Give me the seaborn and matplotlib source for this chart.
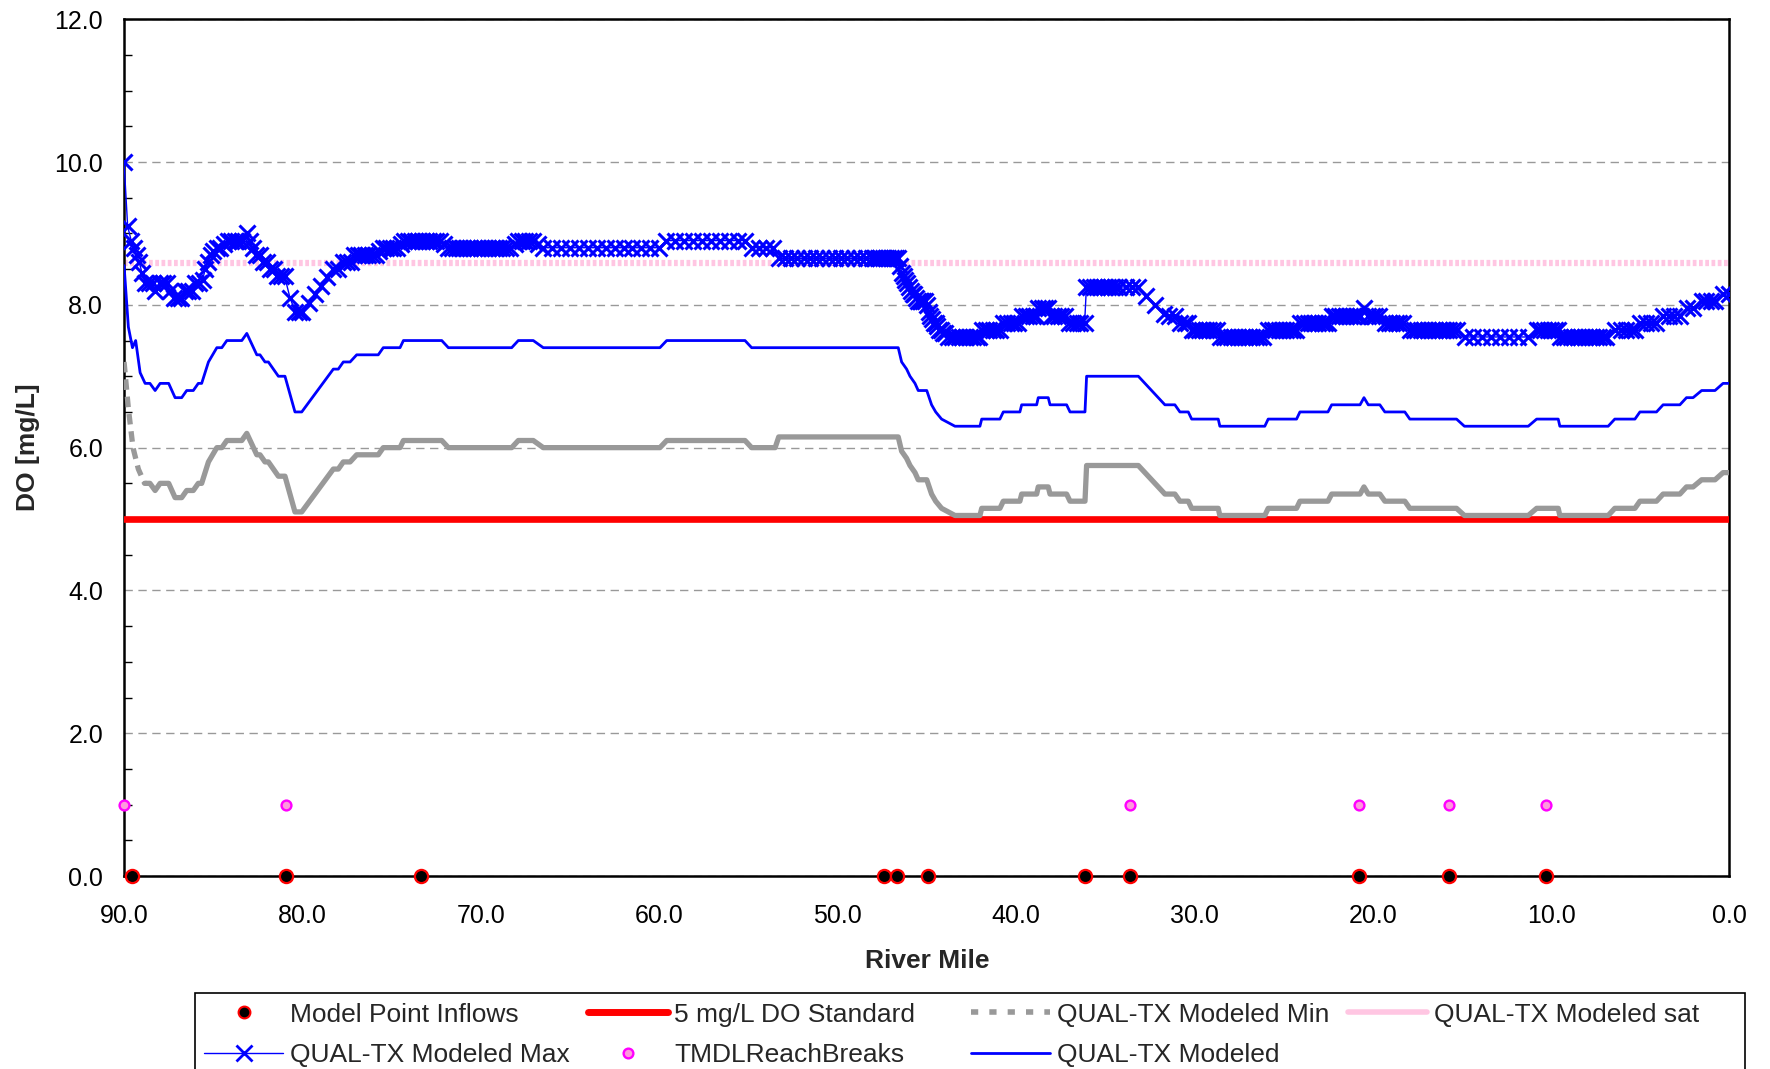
import numpy as np
import pandas as pd
import matplotlib
matplotlib.use("Agg")
import matplotlib.pyplot as plt
import seaborn as sns
from matplotlib.lines import Line2D

# ---------------- data ----------------
modeled_mile = [90.0, 89.76, 89.53, 89.35, 89.1, 88.82, 88.55, 88.26, 87.98, 87.5,
                87.14, 86.77, 86.49, 86.12, 85.84, 85.65, 85.27, 84.8, 84.52, 84.24,
                83.4, 83.12, 82.56, 82.38, 82.1, 81.91, 81.63, 81.35, 80.98, 80.42,
                80.04, 78.27, 77.99, 77.71, 77.33, 76.96, 75.75, 75.47, 74.53, 74.34,
                72.19, 71.82, 68.27, 67.9, 67.06, 66.5, 59.96, 59.58, 55.19, 54.82,
                46.6, 46.41, 46.13, 45.94, 45.66, 45.48, 45.0, 44.73, 44.5, 44.17,
                43.42, 42.02, 41.92, 40.9, 40.71, 39.78, 39.68, 38.84, 38.75, 38.19,
                38.09, 37.16, 36.97, 36.13, 36.04, 33.14, 31.65, 31.09, 30.81, 30.34,
                30.15, 28.66, 28.57, 26.05, 25.86, 24.27, 24.08, 22.51, 22.3, 20.71,
                20.49, 20.25, 19.6, 19.32, 18.2, 17.92, 15.3, 14.86, 11.28, 10.81,
                9.6, 9.51, 6.8, 6.43, 5.3, 5.02, 4.09, 3.72, 2.78, 2.41,
                2.04, 1.56, 0.81, 0.36, 0.0]
modeled_do = [8.55, 7.69, 7.4, 7.5, 7.05, 6.9, 6.9, 6.8, 6.9, 6.9,
              6.7, 6.7, 6.8, 6.8, 6.9, 6.9, 7.2, 7.4, 7.4, 7.5,
              7.5, 7.6, 7.3, 7.3, 7.2, 7.2, 7.1, 7.0, 7.0, 6.5,
              6.5, 7.1, 7.1, 7.2, 7.2, 7.3, 7.3, 7.4, 7.4, 7.5,
              7.5, 7.4, 7.4, 7.5, 7.5, 7.4, 7.4, 7.5, 7.5, 7.4,
              7.4, 7.2, 7.1, 7.0, 6.9, 6.8, 6.8, 6.6, 6.5, 6.4,
              6.3, 6.3, 6.4, 6.4, 6.5, 6.5, 6.6, 6.6, 6.7, 6.7,
              6.6, 6.6, 6.5, 6.5, 7.0, 7.0, 6.6, 6.6, 6.5, 6.5,
              6.4, 6.4, 6.3, 6.3, 6.4, 6.4, 6.5, 6.5, 6.6, 6.6,
              6.7, 6.6, 6.6, 6.5, 6.5, 6.4, 6.4, 6.3, 6.3, 6.4,
              6.4, 6.3, 6.3, 6.4, 6.4, 6.5, 6.5, 6.6, 6.6, 6.7,
              6.7, 6.8, 6.8, 6.9, 6.9]

min_mile = [90.0, 89.76, 89.5, 89.2, 88.85, 88.55, 88.26, 87.98, 87.5, 87.14,
            86.77, 86.49, 86.12, 85.84, 85.65, 85.27, 84.8, 84.52, 84.24, 83.4,
            83.12, 82.56, 82.38, 82.1, 81.91, 81.63, 81.35, 80.98, 80.42, 80.04,
            78.27, 77.99, 77.71, 77.33, 76.96, 75.75, 75.47, 74.53, 74.34, 72.19,
            71.82, 68.27, 67.9, 67.06, 66.5, 59.96, 59.58, 55.19, 54.82, 53.5,
            53.3, 46.6, 46.41, 46.13, 45.94, 45.66, 45.48, 45.0, 44.73, 44.5,
            44.17, 43.42, 42.02, 41.92, 40.9, 40.71, 39.78, 39.68, 38.84, 38.75,
            38.19, 38.09, 37.16, 36.97, 36.13, 36.04, 33.14, 31.65, 31.09, 30.81,
            30.34, 30.15, 28.66, 28.57, 26.05, 25.86, 24.27, 24.08, 22.51, 22.3,
            20.71, 20.49, 20.25, 19.6, 19.32, 18.2, 17.92, 15.3, 14.86, 11.28,
            10.81, 9.6, 9.51, 6.8, 6.43, 5.3, 5.02, 4.09, 3.72, 2.78,
            2.41, 2.04, 1.56, 0.81, 0.36, 0.0]
min_do = [7.2, 6.55, 6.0, 5.7, 5.5, 5.5, 5.4, 5.5, 5.5, 5.3,
          5.3, 5.4, 5.4, 5.5, 5.5, 5.8, 6.0, 6.0, 6.1, 6.1,
          6.2, 5.9, 5.9, 5.8, 5.8, 5.7, 5.6, 5.6, 5.1, 5.1,
          5.7, 5.7, 5.8, 5.8, 5.9, 5.9, 6.0, 6.0, 6.1, 6.1,
          6.0, 6.0, 6.1, 6.1, 6.0, 6.0, 6.1, 6.1, 6.0, 6.0,
          6.15, 6.15, 5.95, 5.85, 5.75, 5.65, 5.55, 5.55, 5.35, 5.25,
          5.15, 5.05, 5.05, 5.15, 5.15, 5.25, 5.25, 5.35, 5.35, 5.45,
          5.45, 5.35, 5.35, 5.25, 5.25, 5.75, 5.75, 5.35, 5.35, 5.25,
          5.25, 5.15, 5.15, 5.05, 5.05, 5.15, 5.15, 5.25, 5.25, 5.35,
          5.35, 5.45, 5.35, 5.35, 5.25, 5.25, 5.15, 5.15, 5.05, 5.05,
          5.15, 5.15, 5.05, 5.05, 5.15, 5.15, 5.25, 5.25, 5.35, 5.35,
          5.45, 5.45, 5.55, 5.55, 5.65, 5.65]

max_mile = [90.0, 89.8, 89.6, 89.45, 89.3, 89.15, 89.0, 88.8, 88.6, 88.4,
            88.25, 88.0, 87.8, 87.6, 87.4, 87.2, 87.0, 86.8, 86.6, 86.4,
            86.2, 86.0, 85.8, 85.6, 85.45, 85.3, 85.15, 85.0, 84.8, 84.6,
            84.4, 84.2, 84.0, 83.8, 83.6, 83.4, 83.1, 82.95, 82.8, 82.6,
            82.4, 82.2, 82.0, 81.8, 81.6, 81.4, 81.2, 81.0, 80.7, 80.4,
            80.2, 80.0,
            79.65, 79.3, 78.95, 78.6, 78.27, 78.0, 77.7, 77.5, 77.3, 77.1,
            76.9, 76.7, 76.5, 76.3, 76.1, 75.9, 75.7, 75.5, 75.3, 75.1,
            74.9, 74.7, 74.5,
            74.3, 74.1, 73.9, 73.7, 73.5, 73.3, 73.1, 72.9, 72.7, 72.5, 72.3,
            72.05, 71.85, 71.6, 71.4, 71.2, 71.0, 70.8, 70.6, 70.4, 70.2,
            70.0, 69.8, 69.6, 69.4, 69.2, 69.0, 68.8, 68.6, 68.35,
            68.1, 67.9, 67.7, 67.5, 67.3, 67.1, 66.8,
            66.5, 66.0, 65.5, 65.0, 64.5, 64.0, 63.5, 63.0, 62.5, 62.0,
            61.5, 61.0, 60.5, 60.0,
            59.6, 59.1, 58.6, 58.1, 57.6, 57.1, 56.6, 56.1, 55.6, 55.2,
            54.8, 54.4, 54.0, 53.6,
            53.3, 52.95, 52.6, 52.25, 51.9, 51.55, 51.2, 50.85, 50.5, 50.15,
            49.8, 49.45, 49.1, 48.75, 48.4, 48.05,
            47.9, 47.75, 47.6, 47.45, 47.3, 47.15, 47.0, 46.85, 46.7, 46.6,
            46.5, 46.4, 46.3, 46.2, 46.1, 46.0, 45.9, 45.8, 45.7, 45.6,
            45.5, 45.4, 45.3, 45.2, 45.1, 45.0, 44.9, 44.8, 44.7, 44.6,
            44.5, 44.4, 44.3, 44.2, 44.1,
            44.0, 43.8, 43.6, 43.4, 43.2, 43.0, 42.8, 42.6, 42.4, 42.2, 42.05,
            41.9, 41.7, 41.5, 41.3, 41.1, 40.9,
            40.7, 40.5, 40.3, 40.1, 39.9,
            39.65, 39.45, 39.25, 39.05, 38.85,
            38.75, 38.55, 38.35, 38.2,
            38.05, 37.85, 37.65, 37.45, 37.25,
            37.0, 36.8, 36.6, 36.4, 36.15,
            36.05, 35.85, 35.65, 35.45, 35.25, 35.05, 34.85, 34.65, 34.45, 34.25,
            33.85, 33.5, 33.15, 32.7, 32.2, 31.7, 31.4, 31.1, 30.8, 30.55, 30.35,
            30.15, 29.95, 29.75, 29.55, 29.35, 29.15, 28.95, 28.75,
            28.55, 28.35, 28.15, 27.95, 27.75, 27.55, 27.35, 27.15, 26.95, 26.75,
            26.55, 26.35, 26.15,
            25.85, 25.65, 25.45, 25.25, 25.05, 24.85, 24.65, 24.45, 24.3,
            24.05, 23.85, 23.65, 23.45, 23.25, 23.05, 22.85, 22.65, 22.5,
            22.3, 22.1, 21.9, 21.7, 21.5, 21.3, 21.1, 20.9, 20.7,
            20.5,
            20.25, 20.05, 19.85, 19.65,
            19.3, 19.1, 18.9, 18.7, 18.5, 18.3,
            17.9, 17.7, 17.5, 17.3, 17.1, 16.9, 16.7, 16.5, 16.3, 16.1,
            15.9, 15.7, 15.5, 15.3,
            14.85, 14.35, 13.85, 13.35, 12.85, 12.35, 11.85, 11.3,
            10.8, 10.6, 10.4, 10.2, 10.0, 9.8, 9.6,
            9.5, 9.3, 9.1, 8.9, 8.7, 8.5, 8.3, 8.1, 7.9, 7.7,
            7.5, 7.3, 7.1, 6.9,
            6.4, 6.1, 5.8, 5.5, 5.3,
            5.0, 4.7, 4.4, 4.1,
            3.7, 3.4, 3.1, 2.8,
            2.4, 2.05,
            1.55, 1.3, 1.05, 0.8,
            0.35, 0.0]
max_do = [10.0, 9.1, 8.9, 8.8, 8.7, 8.6, 8.45, 8.3, 8.3, 8.3,
          8.2, 8.3, 8.3, 8.3, 8.2, 8.1, 8.1, 8.1, 8.2, 8.2,
          8.2, 8.3, 8.3, 8.35, 8.5, 8.6, 8.7, 8.75, 8.8, 8.8,
          8.85, 8.9, 8.9, 8.9, 8.9, 8.9, 9.0, 8.9, 8.8, 8.7,
          8.7, 8.6, 8.6, 8.5, 8.5, 8.4, 8.4, 8.4, 8.1, 7.9,
          7.9, 7.9,
          8.03, 8.15, 8.27, 8.39, 8.5, 8.5, 8.6, 8.6, 8.6, 8.7,
          8.7, 8.7, 8.7, 8.7, 8.7, 8.7, 8.75, 8.8, 8.8, 8.8,
          8.8, 8.8, 8.85,
          8.9, 8.9, 8.9, 8.9, 8.9, 8.9, 8.9, 8.9, 8.9, 8.9, 8.9,
          8.85, 8.8, 8.8, 8.8, 8.8, 8.8, 8.8, 8.8, 8.8, 8.8,
          8.8, 8.8, 8.8, 8.8, 8.8, 8.8, 8.8, 8.8, 8.8,
          8.85, 8.9, 8.9, 8.9, 8.9, 8.9, 8.85,
          8.8, 8.8, 8.8, 8.8, 8.8, 8.8, 8.8, 8.8, 8.8, 8.8,
          8.8, 8.8, 8.8, 8.8,
          8.9, 8.9, 8.9, 8.9, 8.9, 8.9, 8.9, 8.9, 8.9, 8.9,
          8.8, 8.8, 8.8, 8.8,
          8.65, 8.65, 8.65, 8.65, 8.65, 8.65, 8.65, 8.65, 8.65, 8.65,
          8.65, 8.65, 8.65, 8.65, 8.65, 8.65,
          8.65, 8.65, 8.65, 8.65, 8.65, 8.65, 8.65, 8.65, 8.65, 8.65,
          8.55, 8.45, 8.4, 8.35, 8.3, 8.25, 8.2, 8.15, 8.15, 8.1,
          8.05, 8.05, 8.05, 8.05, 8.05, 8.0, 7.9, 7.85, 7.8, 7.75,
          7.75, 7.7, 7.65, 7.65, 7.6,
          7.6, 7.55, 7.55, 7.55, 7.55, 7.55, 7.55, 7.55, 7.55, 7.55, 7.55,
          7.65, 7.65, 7.65, 7.65, 7.65, 7.65,
          7.75, 7.75, 7.75, 7.75, 7.75,
          7.85, 7.85, 7.85, 7.85, 7.85,
          7.95, 7.95, 7.95, 7.95,
          7.85, 7.85, 7.85, 7.85, 7.85,
          7.75, 7.75, 7.75, 7.75, 7.75,
          8.25, 8.25, 8.25, 8.25, 8.25, 8.25, 8.25, 8.25, 8.25, 8.25,
          8.25, 8.25, 8.25, 8.13, 8.0, 7.87, 7.85, 7.85, 7.75, 7.75, 7.75,
          7.65, 7.65, 7.65, 7.65, 7.65, 7.65, 7.65, 7.65,
          7.55, 7.55, 7.55, 7.55, 7.55, 7.55, 7.55, 7.55, 7.55, 7.55,
          7.55, 7.55, 7.55,
          7.65, 7.65, 7.65, 7.65, 7.65, 7.65, 7.65, 7.65, 7.65,
          7.75, 7.75, 7.75, 7.75, 7.75, 7.75, 7.75, 7.75, 7.75,
          7.85, 7.85, 7.85, 7.85, 7.85, 7.85, 7.85, 7.85, 7.85,
          7.95,
          7.85, 7.85, 7.85, 7.85,
          7.75, 7.75, 7.75, 7.75, 7.75, 7.75,
          7.65, 7.65, 7.65, 7.65, 7.65, 7.65, 7.65, 7.65, 7.65, 7.65,
          7.65, 7.65, 7.65, 7.65,
          7.55, 7.55, 7.55, 7.55, 7.55, 7.55, 7.55, 7.55,
          7.65, 7.65, 7.65, 7.65, 7.65, 7.65, 7.65,
          7.55, 7.55, 7.55, 7.55, 7.55, 7.55, 7.55, 7.55, 7.55, 7.55,
          7.55, 7.55, 7.55, 7.55,
          7.65, 7.65, 7.65, 7.65, 7.65,
          7.75, 7.75, 7.75, 7.75,
          7.85, 7.85, 7.85, 7.85,
          7.95, 7.95,
          8.05, 8.05, 8.05, 8.05,
          8.15, 8.15]

sat_mile = [90.0, 0.0]
sat_do = [8.58, 8.58]

std_mile = [90.0, 0.0]
std_do = [5.0, 5.0]

tmdl_mile = [90.0, 80.95, 33.6, 20.75, 15.75, 10.3]
tmdl_do = [1.0, 1.0, 1.0, 1.0, 1.0, 1.0]

inflow_mile = [89.55, 80.95, 73.35, 47.4, 46.65, 44.95, 36.15, 33.6, 20.75, 15.75, 10.3]
inflow_do = [0.0, 0.0, 0.0, 0.0, 0.0, 0.0, 0.0, 0.0, 0.0, 0.0, 0.0]

x_ticks = [90, 80, 70, 60, 50, 40, 30, 20, 10, 0]
y_ticks = [0, 2, 4, 6, 8, 10, 12]

assert len(max_mile) == len(max_do)
assert len(min_mile) == len(min_do)
assert len(modeled_mile) == len(modeled_do)

# ---------------- style ----------------
sns.set_theme(style="white")
plt.rcParams["font.family"] = ["Liberation Sans", "DejaVu Sans"]

BLUE = "#0000FF"
GRAY = "#999999"
PINK = "#FFC6E2"

fig = plt.figure(figsize=(17.7, 10.69), dpi=100)
ax = fig.add_axes([0.0701, 0.1805, 0.9070, 0.8015])

# saturation (pink dotted)
sns.lineplot(x=sat_mile, y=sat_do, ax=ax, color=PINK, linewidth=4.5,
             linestyle=(0, (0.6, 0.4)), sort=False, estimator=None, zorder=2)
# standard
sns.lineplot(x=std_mile, y=std_do, ax=ax, color="#FF0000", linewidth=4.8,
             sort=False, estimator=None, zorder=3, solid_capstyle="round")
# min: steep head drawn dashed (as in the reference), remainder solid
sns.lineplot(x=min_mile[:5], y=min_do[:5], ax=ax, color=GRAY, linewidth=3.8,
             linestyle=(0, (2.0, 1.3)), sort=False, estimator=None, zorder=4)
sns.lineplot(x=min_mile[4:], y=min_do[4:], ax=ax, color=GRAY, linewidth=3.8,
             sort=False, estimator=None, zorder=4)
# modeled
sns.lineplot(x=modeled_mile, y=modeled_do, ax=ax, color=BLUE, linewidth=2.0,
             sort=False, estimator=None, zorder=5)
# max with x markers
sns.lineplot(x=max_mile, y=max_do, ax=ax, color=BLUE, linewidth=1.0,
             marker="x", markersize=11, markeredgewidth=2.2,
             markeredgecolor=BLUE, sort=False, estimator=None, zorder=6)

# TMDL reach breaks
sns.scatterplot(x=tmdl_mile, y=tmdl_do, ax=ax, color="#FF99DD",
                edgecolor="#FF00FF", linewidth=1.7, s=50, zorder=7, clip_on=False)
# model point inflows
sns.scatterplot(x=inflow_mile, y=inflow_do, ax=ax, color="black",
                edgecolor="#FF0000", linewidth=1.6, s=90, zorder=8, clip_on=False)

ax.set_xlim(90, 0)
ax.set_ylim(0, 12)
ax.set_xticks(x_ticks)
ax.set_xticklabels([f"{v:.1f}" for v in x_ticks])
ax.set_yticks(y_ticks)
ax.set_yticklabels([f"{v:.1f}" for v in y_ticks])
ax.set_yticks(np.arange(0, 12.01, 0.5), minor=True)

ax.yaxis.grid(True, which="major", color=GRAY, linestyle=(0, (6, 4)), linewidth=1.0)
ax.xaxis.grid(False)
ax.set_axisbelow(True)

for sp in ax.spines.values():
    sp.set_visible(True)
    sp.set_color("black")
    sp.set_linewidth(1.8)

ax.tick_params(axis="both", which="major", direction="out", length=9, width=1.3,
               colors="black", labelsize=18)
ax.tick_params(axis="y", which="major", pad=6)
ax.tick_params(axis="x", which="major", pad=11)
ax.tick_params(axis="y", which="minor", direction="in", length=6, width=1.0,
               left=True, colors="black")

ax.set_xlabel("River Mile", fontsize=19, fontweight="bold")
ax.set_ylabel("DO [mg/L]", fontsize=19, fontweight="bold")
ax.xaxis.set_label_coords(0.5, -0.085)
ax.yaxis.set_label_coords(-0.0525, 0.5)

# legend (column-major fill to reproduce row layout)
h_inflow = Line2D([], [], ls="none", marker="o", mfc="black", mec="#FF0000", ms=8.5, mew=1.5)
h_max = Line2D([], [], color=BLUE, lw=1.0, marker="x", ms=11, mew=2.0)
h_std = Line2D([], [], color="#FF0000", lw=5)
h_tmdl = Line2D([], [], ls="none", marker="o", mfc="#FF99DD", mec="#FF00FF", ms=7, mew=1.7)
h_min = Line2D([], [], color=GRAY, lw=4, ls=(0, (1.3, 2.0)))
h_mod = Line2D([], [], color=BLUE, lw=2)
h_sat = Line2D([], [], color=PINK, lw=4)

handles = [h_inflow, h_max, h_std, h_tmdl, h_min, h_mod, h_sat]
labels = ["Model Point Inflows", "QUAL-TX Modeled Max", "5 mg/L DO Standard     ",
          "TMDLReachBreaks", "QUAL-TX Modeled Min", "QUAL-TX Modeled",
          "QUAL-TX Modeled sat     "]
leg = fig.legend(handles, labels, loc="upper left", bbox_to_anchor=(0.110, 0.071),
                 ncol=4, frameon=True, fancybox=False, edgecolor="black",
                 framealpha=1, fontsize=19, handlelength=3.0, handletextpad=0.26,
                 columnspacing=0.7, borderpad=0.36, labelspacing=0.62,
                 borderaxespad=0)
leg.get_frame().set_linewidth(1.2)

fig.savefig("out.png", dpi=100)
